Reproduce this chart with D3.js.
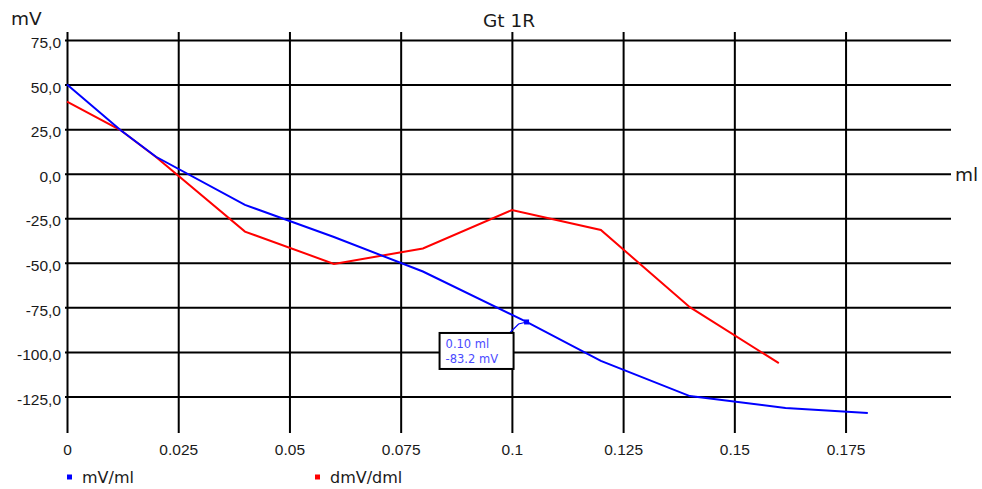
<!DOCTYPE html>
<html>
<head>
<meta charset="utf-8">
<script src="https://cdn.jsdelivr.net/npm/d3@7"></script>
<style>
  body { margin: 0; background: #fff; }
  svg { display: block; font-family: "DejaVu Sans", Verdana, sans-serif; }
</style>
</head>
<body>
<div id="chart"></div>
<script>
//Data
const title = "Gt 1R";
const xUnit = "ml";
const yUnit = "mV";

//mV/ml curve (volume ml, potential mV)
const mvX = [0, 0.012, 0.02, 0.04, 0.06, 0.08, 0.1033, 0.12, 0.14, 0.1615, 0.18];
const mvY = [50, 24.5, 9.5, -17.5, -35.5, -54.9, -83.2, -105, -124.8, -131.5, -134.3];

//dmV/dml curve
const dmvX = [0, 0.012, 0.02, 0.04, 0.06, 0.08, 0.1, 0.12, 0.14, 0.16];
const dmvY = [40.4, 24.5, 9.4, -32.5, -50.6, -42, -20.4, -31.6, -74.9, -106.3];

//Ticks
const xTicks = [0, 0.025, 0.05, 0.075, 0.1, 0.125, 0.15, 0.175];
const xTickLabels = ["0", "0.025", "0.05", "0.075", "0.1", "0.125", "0.15", "0.175"];
const yTicks = [75, 50, 25, 0, -25, -50, -75, -100, -125];
const yTickLabels = ["75,0", "50,0", "25,0", "0,0", "-25,0", "-50,0", "-75,0", "-100,0", "-125,0"];

//Legend
const seriesNames = ["mV/ml", "dmV/dml"];
const seriesColors = ["#0000ff", "#ff0000"];

//Marked point (tooltip)
const markIndex = 6;
const markLabel = ["0.10 ml", "-83.2 mV"];

//Dim
const width = 982;
const height = 489;
const plotLeft = 67, plotRight = 951, plotTop = 32, plotBottom = 433;

const svg = d3.select("#chart")
    .append("svg")
    .attr("width", width)
    .attr("height", height);

//Scales
const x = d3.scaleLinear().domain([0, 0.1987]).range([plotLeft, plotRight]);
const y = d3.scaleLinear().domain([-145.5, 79.5]).range([plotBottom, plotTop]);

//X axis with full height gridlines
const xAxis = svg.append("g")
    .attr("transform", `translate(0,${plotBottom})`)
    .call(d3.axisBottom(x)
        .tickValues(xTicks)
        .tickFormat((d, i) => xTickLabels[i])
        .tickSize(-(plotBottom - plotTop))
        .tickSizeOuter(0)
        .tickPadding(11));
xAxis.select(".domain").remove();
xAxis.selectAll("line").attr("stroke", "#000").attr("stroke-width", 2);
xAxis.selectAll("text").attr("fill", "#1a1a1a").style("font-size", "15.5px");

//Y axis with full width gridlines
const yAxis = svg.append("g")
    .attr("transform", `translate(${plotLeft},0)`)
    .call(d3.axisLeft(y)
        .tickValues(yTicks)
        .tickFormat((d, i) => yTickLabels[i])
        .tickSize(-(plotRight - plotLeft))
        .tickSizeOuter(0)
        .tickPadding(6));
yAxis.select(".domain").remove();
yAxis.selectAll("line").attr("x1", -2).attr("stroke", "#000").attr("stroke-width", 2);
yAxis.selectAll("text")
    .attr("fill", "#1a1a1a")
    .attr("dy", "0.5em")
    .style("font-size", "15.5px");

//Titles
svg.append("text")
    .attr("x", (plotLeft + plotRight) / 2)
    .attr("y", 27)
    .attr("text-anchor", "middle")
    .attr("fill", "#1a1a1a")
    .style("font-size", "18.5px")
    .text(title);

svg.append("text")
    .attr("x", 11)
    .attr("y", 25)
    .attr("fill", "#1a1a1a")
    .style("font-size", "18.5px")
    .text(yUnit);

svg.append("text")
    .attr("x", plotRight + 4)
    .attr("y", y(0) + 7)
    .attr("fill", "#1a1a1a")
    .style("font-size", "18.5px")
    .text(xUnit);

//Lines
const line = d3.line().x(d => x(d[0])).y(d => y(d[1]));

svg.append("path")
    .datum(dmvX.map((v, i) => [v, dmvY[i]]))
    .attr("d", line)
    .attr("fill", "none")
    .attr("stroke", seriesColors[1])
    .attr("stroke-width", 2);

svg.append("path")
    .datum(mvX.map((v, i) => [v, mvY[i]]))
    .attr("d", line)
    .attr("fill", "none")
    .attr("stroke", seriesColors[0])
    .attr("stroke-width", 2);

//Tooltip on marked point
const mx = x(mvX[markIndex]);
const my = y(mvY[markIndex]);
const boxW = 74, boxH = 36;
const boxX = mx - 13 - boxW;
const boxY = my + 11;

svg.append("polyline")
    .attr("points", `${boxX + boxW - 4},${boxY} ${mx - 8},${my + 2} ${mx},${my}`)
    .attr("fill", "none")
    .attr("stroke", seriesColors[0])
    .attr("stroke-width", 1.2);

svg.append("rect")
    .attr("x", mx - 2.5)
    .attr("y", my - 2.5)
    .attr("width", 5)
    .attr("height", 5)
    .attr("fill", seriesColors[0]);

svg.append("rect")
    .attr("x", boxX)
    .attr("y", boxY)
    .attr("width", boxW)
    .attr("height", boxH)
    .attr("fill", "#fff")
    .attr("stroke", "#000")
    .attr("stroke-width", 2);

svg.selectAll(".tip")
    .data(markLabel)
    .enter()
    .append("text")
    .attr("class", "tip")
    .attr("x", boxX + 6)
    .attr("y", (d, i) => boxY + 15 + i * 15)
    .attr("fill", "#4a4aff")
    .style("font-size", "11.5px")
    .text(d => d);

//Legend
const legend = svg.selectAll(".legend")
    .data(seriesNames)
    .enter()
    .append("g")
    .attr("class", "legend")
    .attr("transform", (d, i) => `translate(${67 + i * 248},477)`);

legend.append("rect")
    .attr("x", 0)
    .attr("y", -2.5)
    .attr("width", 5)
    .attr("height", 5)
    .attr("fill", (d, i) => seriesColors[i]);

legend.append("text")
    .attr("x", 15)
    .attr("y", 6)
    .attr("fill", "#1a1a1a")
    .style("font-size", "16px")
    .text(d => d);
</script>
</body>
</html>
